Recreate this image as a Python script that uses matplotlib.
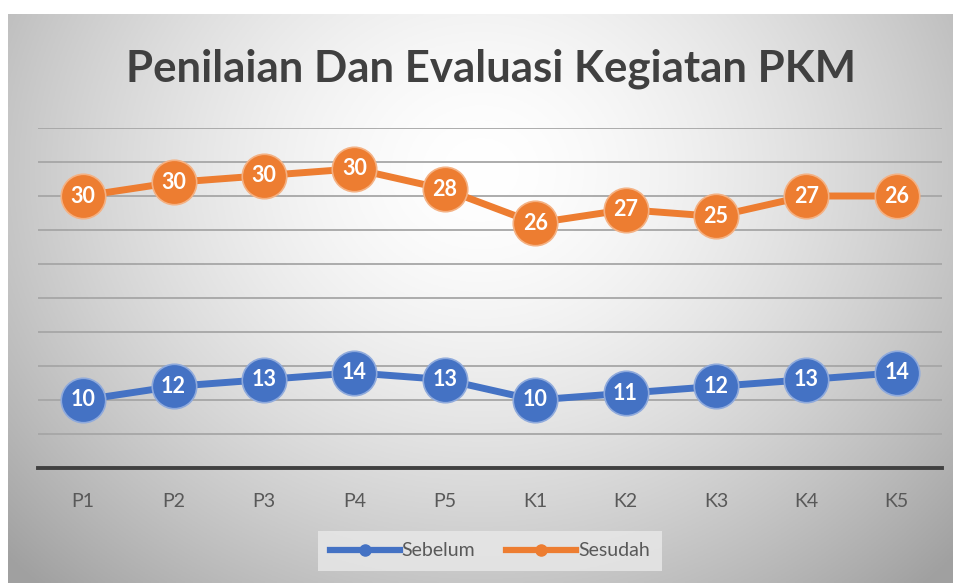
import numpy as np
import matplotlib.pyplot as plt

plt.rcParams["font.family"] = ["Lato", "DejaVu Sans"]

categories = ["P1", "P2", "P3", "P4", "P5", "K1", "K2", "K3", "K4", "K5"]
sebelum = [10, 12, 13, 14, 13, 10, 11, 12, 13, 14]
sesudah = [30, 30, 30, 30, 28, 26, 27, 25, 27, 26]

blue = "#4472C4"
orange = "#ED7D31"

fig = plt.figure(figsize=(9.54, 5.83), dpi=100)

# radial gradient background for the chart area
bg = fig.add_axes([8 / 954, 0, 946 / 954, 569 / 583], zorder=-10)
gx, gy = np.meshgrid(np.linspace(-1, 1, 400), np.linspace(-1, 1, 250))
r = np.sqrt(((gx - 0.0) / 1.1) ** 2 + ((gy - 0.45) / 1.6) ** 2)
shade = 1.0 - 0.26 * np.clip(r, 0, 1.25) ** 1.6
bg.imshow(np.dstack([shade] * 3), extent=[0, 1, 0, 1], origin="lower",
          aspect="auto", vmin=0, vmax=1)
bg.axis("off")

ax = fig.add_axes([38 / 954, 115 / 583, 904 / 954, 340 / 583])
ax.patch.set_alpha(0)
x = np.arange(len(categories))
top = np.array(sebelum) + np.array(sesudah)  # stacked line

for vals, shown, col, edge in [(sebelum, sebelum, blue, "#8faadc"),
                               (top, sesudah, orange, "#f4b183")]:
    ax.plot(x, vals, color=col, lw=5, marker="o", markersize=32,
            markerfacecolor=col, markeredgecolor=edge, markeredgewidth=1.2,
            zorder=3)
    for xi, yi, s in zip(x, vals, shown):
        ax.text(xi, yi, str(s), ha="center", va="center", color="white",
                fontsize=15.5, fontweight="bold", zorder=4)

ax.set_xlim(-0.5, len(categories) - 0.5)
ax.set_ylim(0, 50)
ax.set_yticks(np.arange(5, 51, 5))
ax.yaxis.grid(True, color="#a6a6a6", lw=1.3)
ax.set_axisbelow(True)
ax.tick_params(axis="y", left=False, labelleft=False)
ax.set_xticks(x)
ax.set_xticklabels(categories, fontsize=14, color="#595959")
ax.tick_params(axis="x", length=0, pad=18)
for s in ["top", "right", "left"]:
    ax.spines[s].set_visible(False)
ax.spines["bottom"].set_color("#404040")
ax.spines["bottom"].set_linewidth(2.8)

fig.text(491 / 954, 1 - 69 / 583, "Penilaian Dan Evaluasi Kegiatan PKM",
         ha="center", va="center", fontsize=31.5, fontweight="bold",
         color="#404040")

h1, = ax.plot([], [], color=blue, lw=4.5, marker="o", markersize=8)
h2, = ax.plot([], [], color=orange, lw=4.5, marker="o", markersize=8)
leg = fig.legend([h1, h2], ["Sebelum", "Sesudah"], loc="center",
                 bbox_to_anchor=(490 / 954, 1 - 551 / 583), ncol=2,
                 frameon=True, fontsize=14, handlelength=3.6,
                 handletextpad=0.1, columnspacing=1.6, fancybox=False,
                 borderpad=0.6, borderaxespad=0)
leg.get_frame().set_facecolor("#e9e9e9")
leg.get_frame().set_edgecolor("none")
for t in leg.get_texts():
    t.set_color("#595959")

fig.savefig("out.png", dpi=100, facecolor="white")
